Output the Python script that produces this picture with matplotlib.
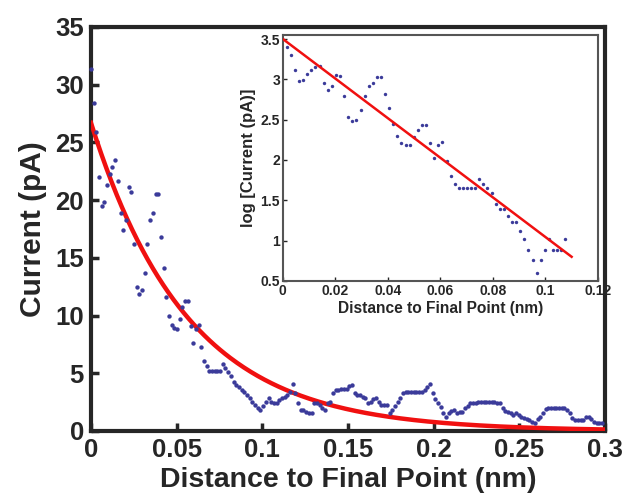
import numpy as np
import matplotlib
matplotlib.use('Agg')
import matplotlib.pyplot as plt

# main panel: current vs distance (spacing ~0.00157 nm between samples)
step_main = 0.00157
current_pA = [
    31.4, 28.4, 25.9, 22.0, 19.5, 19.8, 21.3, 22.3, 22.9, 23.5,
    21.7, 18.9, 17.4, 18.3, 21.1, 20.7, 16.2, 12.5, 11.9, 12.2,
    13.7, 16.2, 18.3, 18.9, 20.5, 20.5, 16.8, 14.1, 11.6, 10.0,
    9.2, 8.9, 8.8, 9.7, 10.7, 11.3, 11.3, 9.1, 7.6, 8.8,
    9.2, 7.3, 6.1, 5.6, 5.2, 5.2, 5.2, 5.2, 5.2, 5.8,
    5.5, 5.1, 4.8, 4.26, 3.98, 3.77, 3.54, 3.34, 3.11, 2.82,
    2.53, 2.25, 1.96, 1.81, 2.16, 2.53, 2.82, 2.53, 2.39, 2.39,
    2.68, 2.82, 2.97, 3.11, 3.40, 4.05, 3.25, 2.45, 1.81, 1.81,
    1.67, 1.60, 1.53, 2.39, 2.39, 2.25, 1.96, 1.81, 2.39, 2.53,
    3.33, 3.54, 3.54, 3.60, 3.68, 3.68, 3.90, 3.98, 3.25, 3.11,
    3.11, 2.97, 2.82, 2.39, 2.53, 2.74, 2.82, 2.53, 2.25, 2.25,
    2.25, 1.53, 1.81, 2.16, 2.53, 2.90, 3.33, 3.40, 3.40, 3.40,
    3.40, 3.40, 3.40, 3.40, 3.54, 3.83, 4.05, 3.25, 2.74, 2.45,
    2.04, 1.60, 1.24, 1.60, 1.76, 1.81, 1.60, 1.67, 1.67, 1.96,
    2.16, 2.39, 2.45, 2.39, 2.53, 2.53, 2.53, 2.53, 2.53, 2.53,
    2.53, 2.45, 2.39, 1.96, 1.76, 1.67, 1.53, 1.38, 1.53, 1.38,
    1.24, 1.09, 1.02, 0.95, 0.81, 0.66, 1.02, 1.17, 1.53, 1.88,
    1.96, 1.96, 1.96, 1.96, 1.96, 1.96, 1.96, 1.81, 1.60, 1.09,
    0.95, 0.95, 0.95, 0.95, 1.17, 1.24, 1.02, 0.81, 0.66, 0.66,
    0.66,
]
distance_nm = np.arange(len(current_pA)) * step_main

# exponential fit shown in red
fit_amp = 26.7
fit_decay = 17.7   # 1/nm

# inset: log current for the first 0.11 nm
inset_x0 = 0.0015
inset_step = 0.00156
log_current = [
    3.40, 3.30, 3.12, 2.98, 2.99, 3.07, 3.11, 3.15, 3.17, 2.95,
    2.87, 2.92, 3.06, 3.04, 2.79, 2.53, 2.48, 2.50, 2.62, 2.79,
    2.92, 2.95, 3.03, 3.03, 2.82, 2.64, 2.45, 2.30, 2.21, 2.18,
    2.18, 2.28, 2.37, 2.43, 2.43, 2.21, 2.03, 2.18, 2.22, 1.99,
    1.80, 1.70, 1.65, 1.65, 1.65, 1.65, 1.65, 1.76, 1.70, 1.65,
    1.59, 1.46, 1.39, 1.39, 1.31, 1.23, 1.23, 1.12, 1.02, 0.89,
    0.76, 0.60, 0.76, 0.89, 1.02, 0.89, 0.89, 0.89, 1.02,
]
inset_dist = inset_x0 + np.arange(len(log_current)) * inset_step
line_x = [0.0, 0.11]
line_y = [3.5, 0.8]

dot_col = '#3b3b9a'
red = '#f01010'
dark = '#262626'

plt.rcParams['font.family'] = ['Liberation Sans', 'DejaVu Sans']
plt.rcParams['font.weight'] = 'bold'

fig = plt.figure(figsize=(6.3, 4.99), dpi=100)
ax = fig.add_axes([0.1444, 0.1363, 0.8159, 0.8096])

xf = np.linspace(0, 0.3, 300)
ax.scatter(distance_nm, current_pA, s=10, color=dot_col, lw=0, zorder=4,
           clip_on=False)
ax.plot(xf, fit_amp * np.exp(-fit_decay * xf), color=red, lw=3.2, zorder=3)

ax.set_xlim(0, 0.3)
ax.set_ylim(0, 35)
ax.set_xticks([0, 0.05, 0.1, 0.15, 0.2, 0.25, 0.3])
ax.set_xticklabels(['0', '0.05', '0.1', '0.15', '0.2', '0.25', '0.3'])
ax.set_yticks(np.arange(0, 36, 5))
ax.tick_params(direction='in', length=6, width=2.5, labelsize=18.5,
               colors=dark, pad=5, top=False, right=False)
for t in ax.get_xticklabels() + ax.get_yticklabels():
    t.set_fontweight('bold')
for s in ax.spines.values():
    s.set_linewidth(3)
    s.set_color(dark)
ax.set_xlabel('Distance to Final Point (nm)', fontsize=20.5, fontweight='bold',
              color=dark, labelpad=4)
ax.set_ylabel('Current (pA)', fontsize=21.5, fontweight='bold', color=dark,
              labelpad=6)

# inset
ins = fig.add_axes([0.449, 0.4369, 0.5, 0.493])
ins.scatter(inset_dist, log_current, s=6, color=dot_col, lw=0, zorder=2)
ins.plot(line_x, line_y, color=red, lw=1.8, zorder=3)
ins.set_xlim(0, 0.12)
ins.set_ylim(0.5, 3.55)
ins.set_xticks([0, 0.02, 0.04, 0.06, 0.08, 0.1, 0.12])
ins.set_xticklabels(['0', '0.02', '0.04', '0.06', '0.08', '0.1', '0.12'])
ins.set_yticks([0.5, 1, 1.5, 2, 2.5, 3, 3.5])
ins.set_yticklabels(['0.5', '1', '1.5', '2', '2.5', '3', '3.5'])
ins.tick_params(direction='in', length=3, width=1, labelsize=10,
                colors=dark, pad=2)
for t in ins.get_xticklabels() + ins.get_yticklabels():
    t.set_fontweight('bold')
for s in ins.spines.values():
    s.set_linewidth(1.5)
    s.set_color('#555555')
ins.set_xlabel('Distance to Final Point (nm)', fontsize=11.2, fontweight='bold',
               color=dark, labelpad=2)
ins.set_ylabel('log [Current (pA)]', fontsize=12, fontweight='bold',
               color=dark, labelpad=3)

fig.savefig('out.png', dpi=100)
